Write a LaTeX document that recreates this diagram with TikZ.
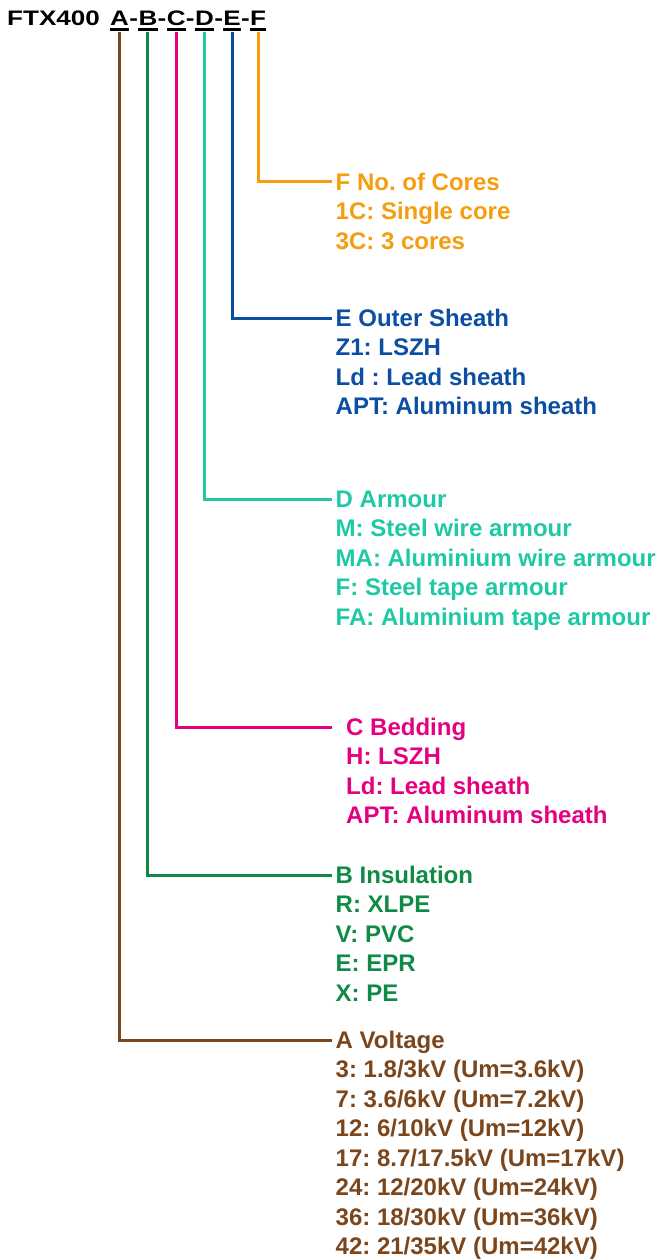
\documentclass[tikz,border=0pt]{standalone}
\usepackage{fontspec}
\setmainfont{Liberation Sans}
\newfontfamily\ttlfont{Liberation Sans}[FakeStretch=1.24]
\usepackage{xcolor}
\usetikzlibrary{positioning,calc}
\frenchspacing
\definecolor{volt}{HTML}{7B461C}
\definecolor{insul}{HTML}{0F8B45}
\definecolor{bedd}{HTML}{E4007F}
\definecolor{armr}{HTML}{20C9A5}
\definecolor{sheath}{HTML}{0B4EA2}
\definecolor{cores}{HTML}{F59D0E}
\tikzset{
  ttl/.style={inner sep=0pt, font=\ttlfont\bfseries\fontsize{21}{25}\selectfont},
  key/.style={ttl, text depth=6pt},
  hd/.style={inner sep=0pt, anchor=base west, text height=16pt, text depth=0pt, font=\bfseries\fontsize{24}{29.5}\selectfont},
  itm/.style={inner sep=0pt, anchor=base west, font=\bfseries\fontsize{24}{29.5}\selectfont},
  ln/.style={line width=3pt, shorten >=3.5pt},
  uline/.style={line width=2.4pt},
}
\begin{document}
\begin{tikzpicture}[x=1pt, y=-1pt]
  \useasboundingbox (0,0) rectangle (657,1260);
  % type code
  \node[ttl, anchor=base west] (t0) at (7,26) {FTX400};
  \node[key, base right=10pt of t0] (tA) {A};
  \foreach \k [remember=\k as \p (initially A)] in {B,C,D,E,F}{
    \node[ttl, base right=0pt of t\p] (s\k) {-};
    \node[key, base right=0pt of s\k] (t\k) {\k};
  }
  \foreach \k in {A,B,C,D,E,F}
    \draw[uline] ([yshift=2.5pt]t\k.south west) -- ([yshift=2.5pt]t\k.south east);

  % F
  \node[hd, text=cores] (hF) at (335.5,190) {F No. of Cores};
  \foreach \t [count=\i] in {1C: Single core, 3C: 3 cores}
    \node[itm, text=cores] (hF-\i) at ($(hF.base west)+(0,29.5*\i)$) {\t};
  % E
  \node[hd, text=sheath] (hE) at (335.5,326) {E Outer Sheath};
  \foreach \t [count=\i] in {Z1: LSZH, Ld : Lead sheath, APT: Aluminum sheath}
    \node[itm, text=sheath] (hE-\i) at ($(hE.base west)+(0,29.5*\i)$) {\t};
  % D
  \node[hd, text=armr] (hD) at (335.5,507) {D Armour};
  \foreach \t [count=\i] in {M: Steel wire armour, MA: Aluminium wire armour, F: Steel tape armour, FA: Aluminium tape armour}
    \node[itm, text=armr] (hD-\i) at ($(hD.base west)+(0,29.5*\i)$) {\t};
  % C
  \node[hd, text=bedd] (hC) at (346,735) {C Bedding};
  \foreach \t [count=\i] in {H: LSZH, Ld: Lead sheath, APT: Aluminum sheath}
    \node[itm, text=bedd] (hC-\i) at ($(hC.base west)+(0,29.5*\i)$) {\t};
  % B
  \node[hd, text=insul] (hB) at (335.5,883) {B Insulation};
  \foreach \t [count=\i] in {R: XLPE, V: PVC, E: EPR, X: PE}
    \node[itm, text=insul] (hB-\i) at ($(hB.base west)+(0,29.5*\i)$) {\t};
  % A
  \node[hd, text=volt] (hA) at (335.5,1048) {A Voltage};
  \foreach \t [count=\i] in {3: 1.8/3kV (Um=3.6kV), 7: 3.6/6kV (Um=7.2kV), 12: 6/10kV (Um=12kV), 17: 8.7/17.5kV (Um=17kV), 24: 12/20kV (Um=24kV), 36: 18/30kV (Um=36kV), 42: 21/35kV (Um=42kV)}
    \node[itm, text=volt] (hA-\i) at ($(hA.base west)+(0,29.5*\i)$) {\t};

  % connectors
  \draw[ln, cores] (tF.south) |- (hF.west);
  \draw[ln, sheath] (tE.south) |- (hE.west);
  \draw[ln, armr] (tD.south) |- (hD.west);
  \draw[ln, bedd, shorten >=14pt] (tC.south) |- (hC.west);
  \draw[ln, insul] (tB.south) |- (hB.west);
  \draw[ln, volt] (tA.south) |- (hA.west);
\end{tikzpicture}
\end{document}
